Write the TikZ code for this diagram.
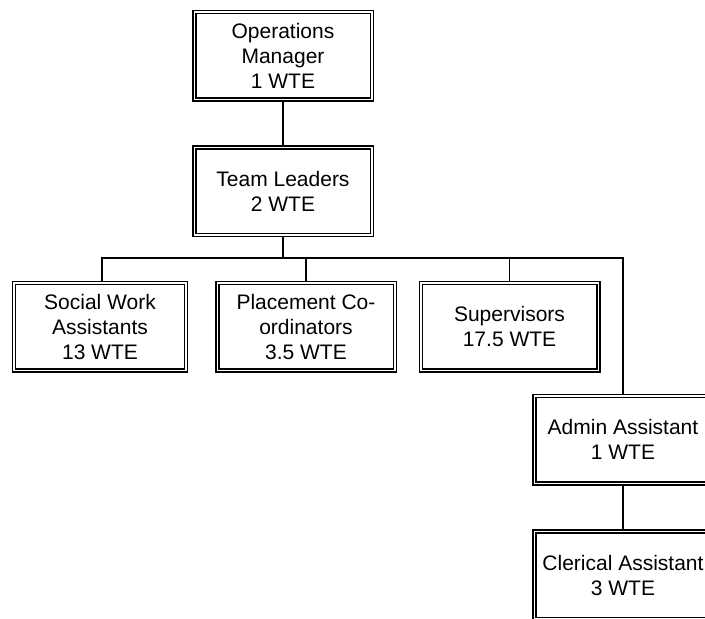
\documentclass[tikz,border=0pt]{standalone}
\usepackage{fontspec}
\setmainfont{Liberation Sans}
\usetikzlibrary{positioning,backgrounds}

\begin{document}
\begin{tikzpicture}[x=1pt,y=-1pt,
    post/.style={draw, double, line width=1.5pt, double distance=1.5pt,
      minimum width=177.5pt, minimum height=87.5pt, inner sep=0pt,
      align=center, font=\fontsize{21}{25}\selectfont},
    link/.style={line width=1.6pt}]
%  \draw[help lines,step=50] (0,0) grid (705,619);
  \useasboundingbox (0,0) rectangle (705,619);
  \clip (0,0) rectangle (705,619);

  \node[post] (opsman)   at (283,55.5)  {Operations\\Manager\\1 WTE};
  \node[post] (teamlead) at (283,191)   {Team Leaders\\2 WTE};

  \node[post, minimum width=172pt] (swa) at (100,326.5) {Social Work\\Assistants\\13 WTE};
  \node[post] (placement) at (306,326.5) {Placement Co-\\ordinators\\3.5 WTE};
  \node[post] (superv)    at (509.5,326.5) {Supervisors\\17.5 WTE};

  \node[post] (admin)    at (623,439.5) {Admin Assistant\\1 WTE};
  \node[post] (clerical) at (623,575)   {Clerical Assistant\\3 WTE};

  \begin{scope}[on background layer]
    \coordinate (busL) at (102,258);
    \coordinate (busR) at (admin.north |- busL);
    \draw[link] (opsman) -- (teamlead);
    \draw[link] (teamlead.south) -- (teamlead.south |- busL);
    \draw[link] (busL |- swa.north) -- (busL) -- (busR) -- (admin.north);
    \draw[link] (placement.north |- busL) -- (placement.north);
    \draw[link] (superv.north |- busL) -- (superv.north);
    \draw[link] (admin) -- (clerical);
  \end{scope}
\end{tikzpicture}
\end{document}
